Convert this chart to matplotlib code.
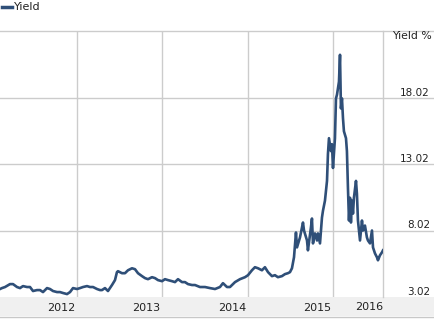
import matplotlib
matplotlib.use("Agg")
import matplotlib.pyplot as plt
from matplotlib.patches import Rectangle
from matplotlib.lines import Line2D
from matplotlib.transforms import blended_transform_factory

# ---- data ----
years = [2011.287, 2011.310, 2011.346, 2011.404, 2011.439, 2011.486, 2011.521, 2011.556,
         2011.603, 2011.638, 2011.673, 2011.720, 2011.755, 2011.790, 2011.837, 2011.872,
         2011.907, 2011.954, 2011.989, 2012.024, 2012.071, 2012.106, 2012.141, 2012.188,
         2012.223, 2012.258, 2012.305, 2012.340, 2012.375, 2012.422, 2012.457, 2012.480,
         2012.515, 2012.550, 2012.597, 2012.632, 2012.655, 2012.667, 2012.714, 2012.749,
         2012.784, 2012.831, 2012.866, 2012.901, 2012.948, 2012.983, 2013.018, 2013.065,
         2013.100, 2013.135, 2013.182, 2013.217, 2013.252, 2013.299, 2013.334, 2013.369,
         2013.416, 2013.451, 2013.486, 2013.533, 2013.568, 2013.626, 2013.685, 2013.743,
         2013.802, 2013.860, 2013.895, 2013.942, 2013.977, 2014.036, 2014.094, 2014.153,
         2014.188, 2014.234, 2014.269, 2014.305, 2014.351, 2014.386, 2014.422, 2014.468,
         2014.503, 2014.538, 2014.585, 2014.620, 2014.655, 2014.679, 2014.702, 2014.726,
         2014.749, 2014.761, 2014.796, 2014.831, 2014.843, 2014.878, 2014.889, 2014.924,
         2014.936, 2014.948, 2014.971, 2014.995, 2015.006, 2015.030, 2015.053, 2015.065,
         2015.088, 2015.112, 2015.123, 2015.135, 2015.158, 2015.170, 2015.182, 2015.205,
         2015.217, 2015.229, 2015.252, 2015.264, 2015.275, 2015.287, 2015.299, 2015.310,
         2015.334, 2015.345, 2015.357, 2015.369, 2015.381, 2015.392, 2015.404, 2015.416,
         2015.427, 2015.451, 2015.462, 2015.474, 2015.498, 2015.521, 2015.533, 2015.556,
         2015.579, 2015.591, 2015.615, 2015.638, 2015.650, 2015.673, 2015.696, 2015.708,
         2015.731, 2015.755, 2015.767]
yields = [3.62, 3.69, 3.77, 3.99, 3.99, 3.77, 3.69, 3.84,
          3.77, 3.77, 3.47, 3.54, 3.54, 3.39, 3.69, 3.62,
          3.47, 3.39, 3.39, 3.32, 3.24, 3.39, 3.69, 3.62,
          3.69, 3.77, 3.84, 3.77, 3.77, 3.62, 3.54, 3.54,
          3.69, 3.47, 3.92, 4.29, 4.89, 4.96, 4.81, 4.81,
          5.03, 5.18, 5.11, 4.81, 4.59, 4.44, 4.36, 4.51,
          4.44, 4.29, 4.21, 4.36, 4.29, 4.21, 4.14, 4.36,
          4.14, 4.14, 3.99, 3.92, 3.92, 3.77, 3.77, 3.69,
          3.62, 3.77, 4.06, 3.77, 3.77, 4.14, 4.36, 4.51,
          4.66, 5.03, 5.26, 5.18, 5.03, 5.26, 4.89, 4.59,
          4.66, 4.51, 4.59, 4.74, 4.81, 4.89, 5.18, 6.01,
          7.87, 6.75, 7.50, 8.62, 8.02, 7.27, 6.53, 8.24,
          8.92, 7.05, 7.80, 7.27, 7.80, 7.05, 8.99, 9.51,
          10.26, 11.75, 13.77, 14.96, 13.99, 14.51, 12.72, 14.96,
          17.95, 18.24, 19.21, 21.23, 17.20, 17.95, 16.45, 15.48,
          14.96, 13.99, 11.23, 8.77, 10.48, 8.62, 10.26, 9.29,
          10.48, 11.75, 10.78, 8.77, 7.27, 8.77, 8.02, 8.39,
          7.50, 7.27, 7.05, 8.02, 6.75, 6.30, 6.01, 5.78,
          6.15, 6.38, 6.53]

series_name = "Yield"
axis_title = "Yield %"
y_ticks = [3.02, 8.02, 13.02, 18.02]
y_max = 23.02
year_labels = [2012, 2013, 2014, 2015, 2016]
v_grid = [2012.188, 2013.182, 2014.188, 2015.182]
x_range = (2011.287, 2015.767)

# ---- styling ----
W, H = 435, 319
LINE = "#2f4f78"
GRID = "#cccccc"
TXT = "#222222"

fig = plt.figure(figsize=(W / 100, H / 100), dpi=100)
fig.patch.set_facecolor("white")

ax_left, ax_right, ax_top, ax_bot = 0, 383, 31, 297
ax = fig.add_axes([ax_left / W, (H - ax_bot) / H, (ax_right - ax_left) / W, (ax_bot - ax_top) / H])
ax.set_zorder(2)
ax.patch.set_alpha(0)
ax.set_xlim(*x_range)
ax.set_ylim(y_ticks[0], y_max)
for s in ["left", "top", "bottom"]:
    ax.spines[s].set_visible(False)
ax.spines["right"].set_color(GRID)
ax.spines["right"].set_linewidth(1.0)
ax.set_yticks([])

# bottom band
fig.patches.append(Rectangle((0, (H - 316) / H), 1, (316 - 297) / H, transform=fig.transFigure,
                             facecolor="#f0f0f0", edgecolor="none", zorder=-5))
fig.lines.append(Line2D([0, 1], [(H - 316.5) / H] * 2, transform=fig.transFigure, color="#c8c8c8",
                        lw=1, zorder=-4))

# horizontal grid lines, extended to the right edge
ext = W / (ax_right - ax_left)
for v in y_ticks[1:] + [y_max]:
    ax.axhline(v, xmin=0, xmax=ext, clip_on=False, color=GRID, lw=1.0, zorder=1)
for xv in v_grid:
    ax.axvline(xv, color=GRID, lw=1.0, zorder=1)

# series
ax.plot(years, yields, color=LINE, lw=1.9, solid_joinstyle="round", zorder=3)

# y labels on the right
tr = blended_transform_factory(fig.transFigure, ax.transData)
for v in y_ticks:
    ax.text(430 / W, v, f"{v:.2f}", transform=tr, ha="right", va="bottom",
            fontsize=7.5, color=TXT, family="DejaVu Sans")
fig.text(432 / W, (H - 36) / H, axis_title, ha="right", va="center", fontsize=7.8, color=TXT)

# x labels
inside = [y for y in year_labels if x_range[0] <= y <= x_range[1]]
ax.set_xticks(inside)
ax.set_xticklabels([str(y) for y in inside])
ax.tick_params(axis="x", length=0, pad=4.5, labelsize=8, labelcolor=TXT)
for y in year_labels:
    if y > x_range[1]:
        ax.text(1.0, -10 / (ax_bot - ax_top), str(y), transform=ax.transAxes, ha="right", va="center",
                fontsize=8, color=TXT)

# legend
fig.lines.append(Line2D([2 / W, 12 / W], [(H - 6.5) / H] * 2, transform=fig.transFigure, color=LINE, lw=2.5))
fig.text(14 / W, (H - 7) / H, series_name, ha="left", va="center", fontsize=8, color=TXT)

fig.savefig("out.png", dpi=100)
